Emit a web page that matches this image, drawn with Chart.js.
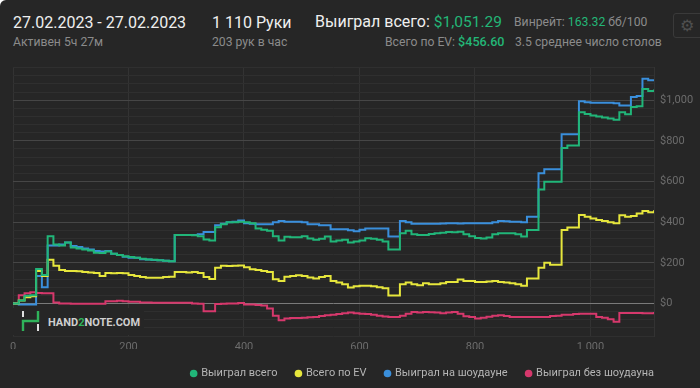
<!DOCTYPE html>
<html>
<head>
<meta charset="utf-8">
<script src="https://cdn.jsdelivr.net/npm/chart.js@4/dist/chart.umd.min.js"></script>
<style>
  body { margin: 0; background: #fff; }
  #wrap {
    position: relative; width: 700px; height: 388px; background: #262626;
    border-top-left-radius: 6px; overflow: hidden; font-family: Roboto, sans-serif;
  }
  .t { position: absolute; white-space: nowrap; line-height: 1; }
  .big { font-size: 16px; color: #efefef; }
  .sm { font-size: 12.2px; color: #8b8b8b; }
  .g { color: #23b677; }
  #chartBox { position: absolute; left: 0; top: 55px; width: 700px; height: 333px; }
  #gear {
    position: absolute; left: 673px; top: 13px; width: 30px; height: 23px;
    border: 1px solid #3a3a3a; border-radius: 3px; color: #4f4f4f;
    font: 16px "DejaVu Sans"; line-height: 23px; text-indent: 6px;
  }
  #mark {
    position: absolute; left: 13px; top: 308px; width: 131px; height: 27px;
    background: #262626; z-index: 2;
  }
  #mark svg { position: absolute; left: 8px; top: 3px; }
  #markText {
    position: absolute; left: 35px; top: 9px; font: bold 11px Roboto, sans-serif;
    color: #cfcfcf; line-height: 1; white-space: nowrap;
  }
</style>
</head>
<body>
<div id="wrap">
  <div class="t big" style="left:13px;top:15px">27.02.2023 - 27.02.2023</div>
  <div class="t sm" style="left:13px;top:36px">Активен 5ч 27м</div>
  <div class="t big" style="left:212px;top:15px">1 110 Руки</div>
  <div class="t sm" style="left:212px;top:36px">203 рук в час</div>
  <div class="t big" style="left:315px;top:14px">Выиграл всего: <span class="g" style="font-size:15.5px">$1,051.29</span></div>
  <div class="t sm" style="left:385px;top:36px">Всего по EV: <span class="g" style="font-size:12.6px;font-weight:500">$456.60</span></div>
  <div class="t sm" style="left:514px;top:16px">Винрейт: <span class="g">163.32</span> бб/100</div>
  <div class="t sm" style="left:515px;top:36px">3.5 среднее число столов</div>
  <div id="gear">⚙</div>
  <div id="chartBox"><canvas id="profitChart"></canvas></div>
  <div id="mark">
    <svg width="20" height="20" viewBox="0 0 20 20">
      <rect x="1" y="0" width="2" height="6" fill="#e0e0e0"/>
      <polyline points="2,20 2,10 17,10 17,0" fill="none" stroke="#2fb35a" stroke-width="2.4"/>
      <rect x="16" y="13" width="2" height="7" fill="#e0e0e0"/>
    </svg>
    <div id="markText">HAND<span style="color:#2fb35a">2</span>NOTE.COM</div>
  </div>
</div>
<script>
const hands = [
  0, 10, 20, 30, 40, 50, 60, 70, 80, 90,
  100, 110, 120, 130, 140, 150, 160, 170, 180, 190,
  200, 210, 220, 230, 240, 250, 260, 270, 280, 290,
  300, 310, 320, 330, 340, 350, 360, 370, 380, 390,
  400, 410, 420, 430, 440, 450, 460, 470, 480, 490,
  500, 510, 520, 530, 540, 550, 560, 570, 580, 590,
  600, 610, 620, 630, 640, 650, 660, 670, 680, 690,
  700, 710, 720, 730, 740, 750, 760, 770, 780, 790,
  800, 810, 820, 830, 840, 850, 860, 870, 880, 890,
  900, 910, 920, 930, 940, 950, 960, 970, 980, 990,
  1000, 1010, 1020, 1030, 1040, 1050, 1060, 1070, 1080, 1090,
  1100, 1110
];

const wonTotal = [
  0, 15, 38, 40, 170, 140, 330, 290, 285, 300,
  275, 270, 265, 260, 250, 248, 255, 245, 238, 232,
  228, 225, 220, 216, 215, 212, 210, 208, 337, 337,
  337, 335, 330, 315, 310, 375, 390, 400, 400, 402,
  400, 395, 369, 362, 358, 330, 310, 328, 326, 326,
  330, 320, 313, 318, 329, 305, 310, 313, 300, 305,
  310, 321, 318, 313, 305, 265, 265, 345, 358, 340,
  337, 337, 342, 345, 348, 352, 350, 353, 340, 330,
  322, 320, 325, 340, 345, 345, 345, 340, 329, 361,
  361, 560, 598, 598, 598, 765, 777, 777, 940, 932,
  925, 920, 915, 910, 903, 940, 930, 966, 970, 1055,
  1045, 1052
];

const evTotal = [
  0, 15, 30, 35, 160, 135, 215, 185, 165, 160,
  160, 158, 155, 152, 150, 135, 150, 148, 150, 148,
  140, 135, 130, 127, 127, 127, 130, 132, 155, 155,
  152, 155, 150, 130, 120, 176, 185, 184, 185, 187,
  178, 168, 165, 160, 155, 119, 110, 131, 135, 139,
  135, 128, 123, 130, 135, 111, 103, 95, 78, 85,
  87, 87, 85, 80, 75, 39, 39, 95, 103, 95,
  90, 100, 95, 95, 100, 105, 105, 118, 111, 110,
  105, 106, 108, 110, 105, 103, 100, 95, 87, 123,
  123, 176, 200, 190, 190, 361, 374, 374, 435, 426,
  418, 410, 405, 400, 395, 434, 426, 430, 442, 455,
  448, 458
];

const wonShowdown = [
  0, -5, -5, -5, 135, 80, 285, 285, 290, 300,
  283, 278, 270, 265, 258, 255, 258, 245, 238, 230,
  225, 225, 218, 216, 214, 212, 210, 208, 337, 337,
  337, 337, 340, 352, 352, 385, 392, 400, 402, 408,
  395, 392, 390, 390, 390, 400, 406, 402, 402, 402,
  400, 390, 390, 385, 385, 365, 365, 365, 360, 355,
  362, 369, 369, 369, 369, 329, 329, 406, 400, 392,
  392, 392, 392, 392, 393, 395, 395, 393, 395, 394,
  394, 394, 394, 400, 406, 404, 402, 402, 400, 426,
  426, 640, 660, 660, 660, 832, 832, 832, 995, 990,
  987, 987, 987, 987, 985, 974, 974, 1015, 1020, 1105,
  1098, 1098
];

const wonNoShowdown = [
  0, 40, 50, 55, 52, 50, 50, 5, 0, 0,
  -2, -2, -2, -2, -2, -2, 11, 11, 13, 11,
  8, 8, 5, 5, 3, 3, 3, 3, 3, 3,
  3, 0, -2, -38, -38, -3, -2, 0, 0, 2,
  -5, -5, -8, -10, -25, -60, -82, -74, -72, -71,
  -70, -68, -66, -62, -58, -55, -52, -48, -45, -48,
  -50, -52, -55, -60, -64, -66, -66, -60, -50, -42,
  -45, -42, -43, -45, -48, -45, -42, -50, -63, -66,
  -74, -70, -65, -60, -58, -62, -66, -66, -66, -66,
  -66, -66, -66, -62, -60, -55, -55, -52, -50, -50,
  -50, -66, -70, -78, -90, -47, -47, -47, -47, -48,
  -48, -42
];

const seriesNames = ["Выиграл всего", "Всего по EV", "Выиграл на шоудауне", "Выиграл без шоудауна"];
const seriesColors = ["#21b679", "#e6e63c", "#3a8fdc", "#d6386c"];
const seriesValues = [wonTotal, evTotal, wonShowdown, wonNoShowdown];
const xTicks = [0, 200, 400, 600, 800, 1000];

function money(v) {
  return "$" + v.toLocaleString("en-US");
}

// legend ends just past the plot's right edge, not at the canvas edge
const legendShift = {
  id: "legendShift",
  afterLayout(chart) {
    chart.legend.right = chart.chartArea.right + 19;
  },
};

new Chart(document.getElementById("profitChart"), {
  type: "line",
  data: {
    datasets: seriesNames.map((name, i) => ({
      label: name,
      data: hands.map((h, j) => ({ x: h, y: seriesValues[i][j] })),
      borderColor: seriesColors[i],
      backgroundColor: seriesColors[i],
      borderWidth: 2,
      pointRadius: 0,
      pointStyle: "circle",
      stepped: true,
    })),
  },
  options: {
    responsive: true,
    maintainAspectRatio: false,
    animation: false,
    layout: { padding: { left: 13, top: 8, right: 0, bottom: 0 } },
    plugins: {
      tooltip: { enabled: false },
      legend: {
        position: "bottom",
        align: "end",
        maxHeight: 39,
        labels: {
          usePointStyle: true,
          boxWidth: 4,
          boxHeight: 4,
          color: "#b5b5b5",
          padding: 19,
          font: { family: "Roboto", size: 11 },
        },
      },
    },
    scales: {
      x: {
        type: "linear",
        min: 0,
        max: 1110,
        afterBuildTicks: (scale) => {
          scale.ticks = xTicks.map((v) => ({ value: v }));
        },
        afterFit: (scale) => {
          scale.height = 13;
        },
        grid: { color: "#333333", drawTicks: false },
        border: { display: false },
        ticks: {
          padding: 5,
          color: "#6c6c6c",
          font: { family: "Roboto", size: 11 },
          callback: (v) => (v >= 1000 ? "1 000" : String(v)),
        },
      },
      y: {
        position: "right",
        min: -160,
        max: 1160,
        afterFit: (scale) => {
          scale.width = 46;
        },
        grid: {
          drawTicks: false,
          color: (ctx) => {
            const v = ctx.tick.value;
            if (v === 0) return "#7a7a7a";
            return v % 200 === 0 ? "#464646" : "#2f2f2f";
          },
        },
        border: { color: "#333333" },
        ticks: {
          stepSize: 40,
          autoSkip: false,
          padding: 6,
          color: "#6c6c6c",
          font: { family: "Roboto", size: 11 },
          callback: (v) => (v >= 0 && v % 200 === 0 ? money(v) : ""),
        },
      },
    },
  },
  plugins: [legendShift],
});
</script>
</body>
</html>
